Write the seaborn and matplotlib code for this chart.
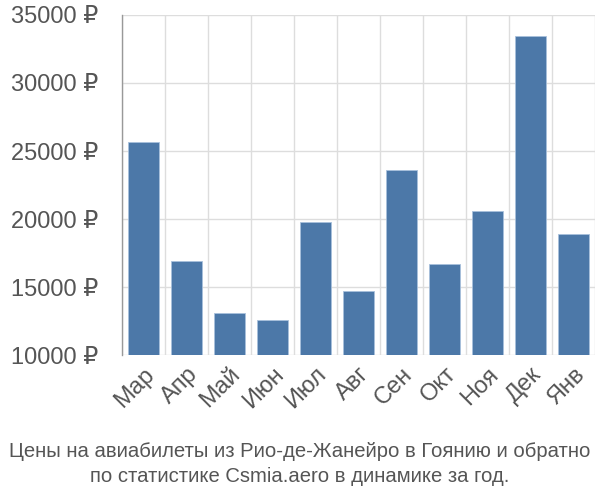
import matplotlib
matplotlib.use("Agg")
import matplotlib.pyplot as plt
import seaborn as sns
import pandas as pd
import numpy as np

months = ["Мар", "Апр", "Май", "Июн", "Июл", "Авг", "Сен", "Окт", "Ноя", "Дек", "Янв"]
prices = [25660, 16900, 13090, 12560, 19780, 14700, 23620, 16690, 20580, 33450, 18900]
yticks = [10000, 15000, 20000, 25000, 30000, 35000]
title = "Цены на авиабилеты из Рио-де-Жанейро в Гоянию и обратно\nпо статистике Csmia.aero в динамике за год."

sns.set_style("white")
plt.rcParams['font.family'] = ['Liberation Sans', 'DejaVu Sans']

df = pd.DataFrame({"month": months, "price": prices})

fig = plt.figure(figsize=(6, 5), dpi=100)
ax = fig.add_axes([0.203, 0.29, 0.789, 0.68])

sns.barplot(data=df, x="month", y="price", color="#4c78a8", saturation=1,
            width=0.72, edgecolor="#a8c0dc", linewidth=0.6, ax=ax, zorder=3)

ax.set_xlim(-0.5, len(months) - 0.5)
ax.set_ylim(10000, 35000)
ax.set_yticks(yticks)
ax.set_yticklabels([f"{v} ₽" for v in yticks])
ax.set_xticks(np.arange(-0.5, len(months), 1), minor=True)

ax.grid(True, axis="y", color="#dddddd", linewidth=1, zorder=0)
ax.grid(True, axis="x", which="minor", color="#dddddd", linewidth=1, zorder=0)
ax.set_axisbelow(True)

ax.tick_params(axis="y", length=15, color="#dddddd", width=1, labelsize=17,
               labelcolor="#555555", pad=2)
ax.tick_params(axis="x", which="major", length=0, labelsize=17,
               labelcolor="#555555", pad=6)
ax.tick_params(axis="x", which="minor", length=15, color="#dddddd", width=1)
for lab in ax.get_xticklabels():
    lab.set_rotation(45)
    lab.set_ha("right")
    lab.set_rotation_mode("anchor")

for s in ["top", "right", "bottom"]:
    ax.spines[s].set_visible(False)
ax.spines["left"].set_color("#999999")
ax.spines["left"].set_linewidth(1)

ax.set_xlabel("")
ax.set_ylabel("")

fig.text(0.5, 0.028, title, ha="center", va="bottom", fontsize=14.6,
         color="#555555", linespacing=1.4)

fig.savefig("out.png", dpi=100)
